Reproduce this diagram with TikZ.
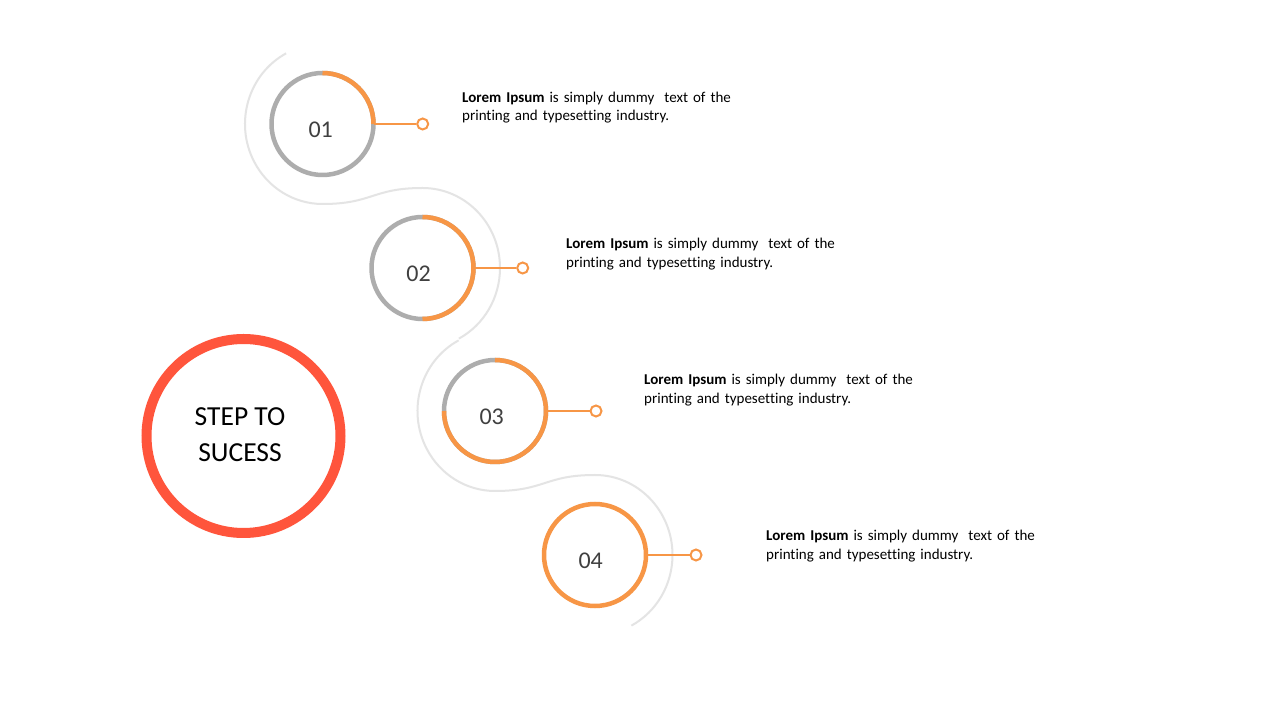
\documentclass[tikz,border=0pt]{standalone}
\usepackage{fontspec}
\setmainfont{Carlito}[Ligatures=NoCommon]
\usetikzlibrary{calc}
\definecolor{accent}{HTML}{F79646}
\definecolor{ringgray}{HTML}{ADADAD}
\definecolor{trackgray}{HTML}{E4E4E4}
\definecolor{bigred}{HTML}{FF553C}
\definecolor{numgray}{HTML}{404040}
\tikzset{
  ring/.style={circle,draw=ringgray,line width=4.5pt,minimum size=102pt,inner sep=0pt,outer sep=0pt},
  ringfull/.style={ring,draw=accent},
  orangearc/.style={draw=accent,line width=4.5pt},
  dot/.style={circle,draw=accent,fill=white,line width=2pt,minimum size=11pt,inner sep=0pt},
  conn/.style={draw=accent,line width=2pt},
  track/.style={draw=trackgray,line width=2pt},
  num/.style={anchor=base,text=numgray,font=\fontsize{24}{28}\selectfont,inner sep=0pt},
  desc/.style={anchor=base west,text width=320pt,align=left,inner sep=0pt,font=\fontsize{15}{18.3}\selectfont,text=black},
  bigring/.style={circle,draw=bigred,line width=10pt,minimum size=194pt,inner sep=0pt},
  title/.style={align=center,font=\fontsize{27.5}{36}\selectfont,text=black,inner sep=0pt}
}
\begin{document}
\begin{tikzpicture}[x=1pt,y=1pt]
\useasboundingbox[fill=white] (0,0) rectangle (1280,720);
% centres (y measured upward)
\coordinate (c1) at (322.5,596);
\coordinate (c2) at (422.5,452);
\coordinate (c3) at (495,309);
\coordinate (c4) at (595,165);
% track
\draw[track] ($(c1)+(118:77.5 and 80)$) arc[start angle=118,end angle=270,x radius=77.5,y radius=80]
  .. controls +(50,0) and +(-50,0) .. ($(c2)+(0,80)$)
  arc[start angle=90,end angle=-62,x radius=77.5,y radius=80];
\draw[track] ($(c3)+(118:77.5 and 80)$) arc[start angle=118,end angle=270,x radius=77.5,y radius=80]
  .. controls +(50,0) and +(-50,0) .. ($(c4)+(0,80)$)
  arc[start angle=90,end angle=-62,x radius=77.5,y radius=80];
% rings
\node[ring] (n1) at (c1) {};
\draw[orangearc] (n1.north) arc[start angle=90,end angle=0,radius=51];
\node[ring] (n2) at (c2) {};
\draw[orangearc] (n2.north) arc[start angle=90,end angle=-90,radius=51];
\node[ring] (n3) at (c3) {};
\draw[orangearc] (n3.north) arc[start angle=90,end angle=-180,radius=51];
\node[ringfull] (n4) at (c4) {};
% numbers
\node[num] (t1) at (320.7,582.7) {01};
\node[num] (t2) at (418.5,438.3) {02};
\node[num] (t3) at (491.7,295.7) {03};
\node[num] (t4) at (590.7,151.7) {04};
% dots and connectors
\node[dot] (d1) at (422.7,596) {};
\node[dot] (d2) at (522.7,452) {};
\node[dot] (d3) at (596,309) {};
\node[dot] (d4) at (696,165) {};
\draw[conn] (n1.east) -- (d1.west);
\draw[conn] (n2.east) -- (d2.west);
\draw[conn] (n3.east) -- (d3.west);
\draw[conn] (n4.east) -- (d4.west);
% descriptions
\node[desc] (p1) at (462,617.7) {\textbf{Lorem Ipsum} is simply dummy\ \ text of the\\printing and typesetting industry.};
\node[desc] (p2) at (566,471) {\textbf{Lorem Ipsum} is simply dummy\ \ text of the\\printing and typesetting industry.};
\node[desc] (p3) at (644,335) {\textbf{Lorem Ipsum} is simply dummy\ \ text of the\\printing and typesetting industry.};
\node[desc] (p4) at (766,179) {\textbf{Lorem Ipsum} is simply dummy\ \ text of the\\printing and typesetting industry.};
% big circle
\node[bigring] (big) at (243.5,284) {};
\node[title] (tt) at (240,285) {STEP TO\\SUCESS};
\end{tikzpicture}
\end{document}
